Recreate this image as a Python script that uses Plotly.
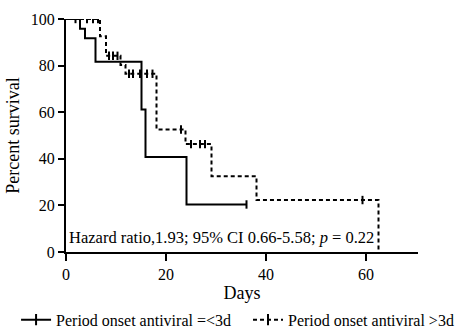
import plotly.graph_objects as go

# Kaplan-Meier step data (days, percent survival)
early_days = [0, 2.8, 3.8, 5.9, 15.1, 15.9, 24.1, 36.1]
early_surv = [100, 95.8, 91.7, 81.6, 61.2, 40.8, 20.4, 20.4]
early_cens_days = [1.9, 36.1]
early_cens_surv = [100, 20.4]

late_days = [0, 6.8, 8.0, 10.9, 11.9, 18.1, 23.9, 29.1, 38.1, 62.5]
late_surv = [100, 92.6, 84.2, 80.3, 76.5, 52.6, 46.3, 32.5, 22.3, 0]
late_cens_days = [4.2, 5.4, 6.4, 8.6, 9.4, 10.3, 12.6, 13.4, 14.8, 16.2, 17.3, 23.0, 25.0, 26.8, 27.8, 59.3]
late_cens_surv = [100, 100, 100, 84.2, 84.2, 84.2, 76.5, 76.5, 76.5, 76.5, 76.5, 52.6, 46.3, 46.3, 46.3, 22.3]

legend_names = ["Period onset antiviral =<3d", "Period onset antiviral >3d"]
x_ticks = [0, 20, 40, 60]
y_ticks = [0, 20, 40, 60, 80, 100]

FONT = "Liberation Serif, Times New Roman, serif"
DASH = "4px,3px"

fig = go.Figure()

fig.add_trace(go.Scatter(
    x=early_days, y=early_surv, mode="lines", line=dict(shape="hv", color="black", width=2),
    name=legend_names[0], showlegend=False))
fig.add_trace(go.Scatter(
    x=early_cens_days, y=early_cens_surv, mode="markers", name=legend_names[0],
    marker=dict(symbol="line-ns", size=6, line=dict(color="black", width=2)), showlegend=False))
fig.add_trace(go.Scatter(
    x=late_days, y=late_surv, mode="lines", line=dict(shape="hv", color="black", width=2, dash=DASH),
    name=legend_names[1], showlegend=False))
fig.add_trace(go.Scatter(
    x=late_cens_days, y=late_cens_surv, mode="markers", name=legend_names[1],
    marker=dict(symbol="line-ns", size=6, line=dict(color="black", width=2)), showlegend=False))

# legend entries (line + censor tick), one legend each
fig.add_trace(go.Scatter(
    x=[None], y=[None], mode="lines+markers", name=legend_names[0], legend="legend",
    line=dict(color="black", width=2),
    marker=dict(symbol="line-ns", size=8, line=dict(color="black", width=2))))
fig.add_trace(go.Scatter(
    x=[None], y=[None], mode="lines+markers", name=legend_names[1], legend="legend2",
    line=dict(color="black", width=2, dash=DASH),
    marker=dict(symbol="line-ns", size=8, line=dict(color="black", width=2))))

fig.add_annotation(
    x=0.2, y=6.4, xref="x", yref="y", xanchor="left", yanchor="middle", showarrow=False,
    text="Hazard ratio,1.93; 95% CI 0.66-5.58; <i>p</i> = 0.22",
    font=dict(family=FONT, size=16.5, color="black"))

legend_common = dict(orientation="h", yanchor="middle", xref="container", yref="container", y=0.025,
                     font=dict(family=FONT, size=16, color="black"),
                     bgcolor="rgba(0,0,0,0)", itemwidth=30)

fig.update_layout(
    width=459, height=328,
    margin=dict(l=66, r=41, t=19, b=76),
    paper_bgcolor="white", plot_bgcolor="white",
    font=dict(family=FONT, color="black", size=16),
    showlegend=True,
    legend=dict(x=0.035, xanchor="left", **legend_common),
    legend2=dict(x=1.0, xanchor="right", **legend_common),
)
fig.update_xaxes(
    range=[0, 70.4], tickvals=x_ticks, showgrid=False, zeroline=False, automargin=False,
    showline=True, linecolor="black", linewidth=2,
    ticks="outside", ticklen=7, tickwidth=2, tickcolor="black",
    tickfont=dict(family=FONT, size=16),
    title=dict(text="Days", font=dict(family=FONT, size=18), standoff=2))
fig.update_yaxes(
    range=[0, 100], tickvals=y_ticks, showgrid=False, zeroline=False,
    showline=True, linecolor="black", linewidth=2,
    ticks="outside", ticklen=6, tickwidth=2, tickcolor="black",
    tickfont=dict(family=FONT, size=16),
    title=dict(text="Percent survival", font=dict(family=FONT, size=18), standoff=6))

fig.write_html("out.html")
